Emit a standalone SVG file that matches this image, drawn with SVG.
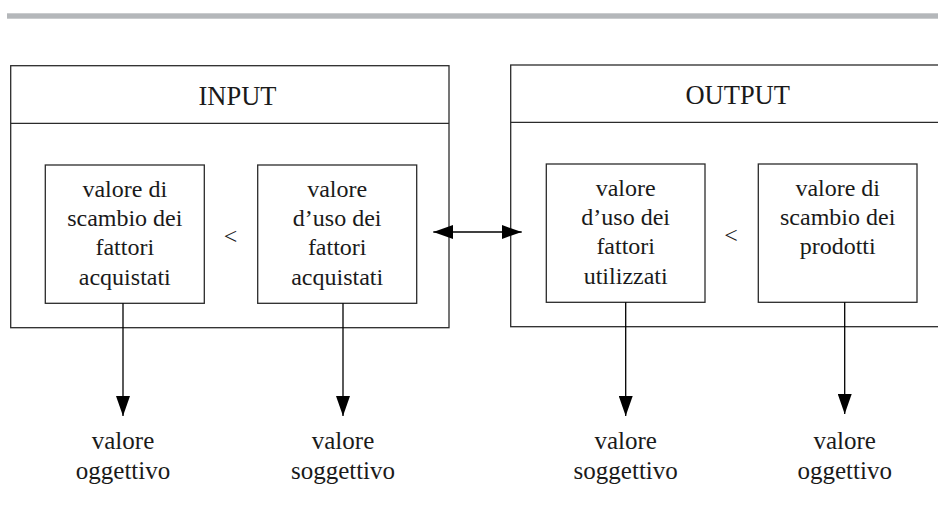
<svg xmlns="http://www.w3.org/2000/svg" width="938" height="511" viewBox="0 0 938 511">
  <style>
    .box { fill: #ffffff; stroke: #2b2b2b; stroke-width: 1.3; }
    .line { stroke: #2b2b2b; stroke-width: 1.3; fill: none; }
    .wire { stroke: #000000; stroke-width: 1.3; fill: none; }
    text { font-family: "Liberation Serif", "DejaVu Serif", serif; fill: #1a1a1a; text-anchor: middle; }
    .head { font-size: 26.5px; }
    .body { font-size: 24px; }
    .label { font-size: 25px; }
  </style>
  <defs>
    <marker id="arrow" viewBox="0 0 20 14" refX="20" refY="7" markerWidth="20" markerHeight="14" markerUnits="userSpaceOnUse" orient="auto-start-reverse">
      <path d="M0,0 L20,7 L0,14 Z" fill="#000000"/>
    </marker>
  </defs>

  <!-- top rule -->
  <rect x="7" y="13.3" width="931" height="5.4" fill="#b4b7ba"/>

  <!-- INPUT panel -->
  <g id="input">
    <rect class="box" x="10.7" y="65.7" width="438.3" height="262"/>
    <line class="line" x1="10.7" y1="123.3" x2="449" y2="123.3"/>
    <text class="head" x="237.5" y="104.7">INPUT</text>
  </g>
  <g id="input-exchange">
    <rect class="box" x="45.3" y="165" width="159" height="138.3"/>
    <text class="body" x="124.8" y="196.7">valore di</text>
    <text class="body" x="124.8" y="226">scambio dei</text>
    <text class="body" x="124.8" y="255.3">fattori</text>
    <text class="body" x="124.8" y="284.6">acquistati</text>
  </g>
  <g id="input-lt">
    <text class="body" x="230.5" y="244">&lt;</text>
  </g>
  <g id="input-use">
    <rect class="box" x="257.7" y="165" width="159" height="138.3"/>
    <text class="body" x="337.2" y="196.7">valore</text>
    <text class="body" x="337.2" y="226">d’uso dei</text>
    <text class="body" x="337.2" y="255.3">fattori</text>
    <text class="body" x="337.2" y="284.6">acquistati</text>
  </g>

  <!-- OUTPUT panel -->
  <g id="output">
    <rect class="box" x="510.7" y="65" width="438.3" height="261.7"/>
    <line class="line" x1="510.7" y1="122.3" x2="949" y2="122.3"/>
    <text class="head" x="737.7" y="104">OUTPUT</text>
  </g>
  <g id="output-use">
    <rect class="box" x="546.3" y="164" width="158.7" height="138.3"/>
    <text class="body" x="625.7" y="195.7">valore</text>
    <text class="body" x="625.7" y="225">d’uso dei</text>
    <text class="body" x="625.7" y="254.3">fattori</text>
    <text class="body" x="625.7" y="283.6">utilizzati</text>
  </g>
  <g id="output-lt">
    <text class="body" x="731" y="243">&lt;</text>
  </g>
  <g id="output-exchange">
    <rect class="box" x="758.3" y="164" width="158.7" height="138.3"/>
    <text class="body" x="837.7" y="195.7">valore di</text>
    <text class="body" x="837.7" y="225">scambio dei</text>
    <text class="body" x="837.7" y="254.3">prodotti</text>
  </g>

  <!-- result labels -->
  <g id="label-1">
    <text class="label" x="123" y="449">valore</text>
    <text class="label" x="123" y="479">oggettivo</text>
  </g>
  <g id="label-2">
    <text class="label" x="343" y="449">valore</text>
    <text class="label" x="343" y="479">soggettivo</text>
  </g>
  <g id="label-3">
    <text class="label" x="625.7" y="449">valore</text>
    <text class="label" x="625.7" y="479">soggettivo</text>
  </g>
  <g id="label-4">
    <text class="label" x="844.7" y="449">valore</text>
    <text class="label" x="844.7" y="479">oggettivo</text>
  </g>

  <!-- connectors -->
  <g id="connectors">
    <line class="wire" x1="433.3" y1="232" x2="521.7" y2="232" marker-start="url(#arrow)" marker-end="url(#arrow)"/>
    <line class="wire" x1="123" y1="303.3" x2="123" y2="416" marker-end="url(#arrow)"/>
    <line class="wire" x1="343" y1="303.3" x2="343" y2="416" marker-end="url(#arrow)"/>
    <line class="wire" x1="625.7" y1="302.3" x2="625.7" y2="416" marker-end="url(#arrow)"/>
    <line class="wire" x1="844.7" y1="302.3" x2="844.7" y2="414" marker-end="url(#arrow)"/>
  </g>
</svg>
